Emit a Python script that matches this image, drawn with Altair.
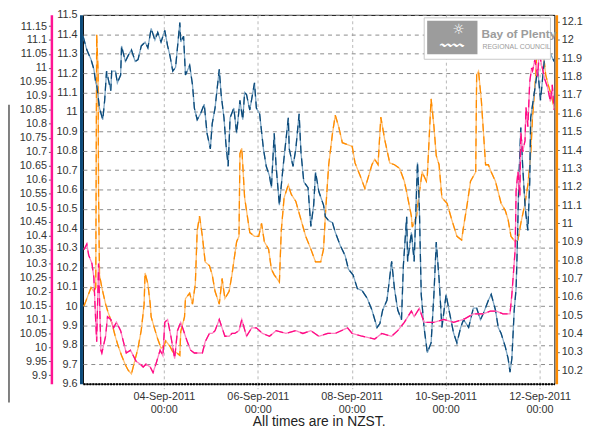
import altair as alt
import pandas as pd

# time as decimal day of September 2011 (local time)
blue_day = [2.28, 2.36, 2.45, 2.51, 2.55, 2.57, 2.63, 2.70, 2.74, 2.78,
            2.87, 2.89, 2.97, 3.01, 3.08, 3.10, 3.18, 3.24, 3.31, 3.39,
            3.45, 3.52, 3.60, 3.66, 3.73, 3.81, 3.87, 3.94, 4.02, 4.08,
            4.13, 4.19, 4.25, 4.34, 4.36, 4.42, 4.46, 4.55, 4.61, 4.65,
            4.71, 4.78, 4.86, 4.92, 4.99, 5.03, 5.09, 5.18, 5.22, 5.28,
            5.32, 5.37, 5.41, 5.49, 5.55, 5.62, 5.68, 5.72, 5.76, 5.83,
            5.93, 5.97, 6.04, 6.12, 6.18, 6.25, 6.29, 6.35, 6.39, 6.46,
            6.54, 6.65, 6.67, 6.75, 6.81, 6.88, 6.92, 6.98, 7.07, 7.13,
            7.19, 7.23, 7.30, 7.40, 7.44, 7.51, 7.59, 7.65, 7.76, 7.86,
            7.93, 8.03, 8.12, 8.22, 8.33, 8.43, 8.54, 8.60, 8.66, 8.75,
            8.85, 8.91, 8.98, 9.06, 9.10, 9.17, 9.19, 9.27, 9.33, 9.40,
            9.44, 9.48, 9.54, 9.61, 9.69, 9.75, 9.80, 9.86, 9.92, 10.01,
            10.07, 10.17, 10.24, 10.32, 10.38, 10.49, 10.59, 10.66, 10.74, 10.80,
            10.91, 10.97, 11.06, 11.12, 11.18, 11.27, 11.33, 11.37, 11.41, 11.46,
            11.50, 11.52, 11.56, 11.60, 11.64, 11.69, 11.71, 11.75, 11.79, 11.81,
            11.90, 11.96, 12.02, 12.11, 12.17, 12.23, 12.31]
blue_val = [11.39, 11.32, 11.27, 11.22, 11.15, 11.14, 11.02, 10.96, 11.06, 11.21,
            11.11, 11.21, 11.21, 11.15, 11.19, 11.34, 11.26, 11.29, 11.32, 11.26,
            11.27, 11.34, 11.36, 11.33, 11.43, 11.37, 11.41, 11.36, 11.42, 11.34,
            11.29, 11.21, 11.23, 11.46, 11.36, 11.39, 11.19, 11.24, 11.14, 11.02,
            10.96, 10.99, 11.04, 10.89, 10.81, 10.94, 11.02, 11.22, 11.09, 10.97,
            10.84, 10.72, 10.97, 11.02, 10.89, 11.06, 10.96, 11.10, 11.09, 11.01,
            11.15, 11.02, 10.99, 10.81, 10.72, 10.67, 10.61, 10.89, 10.72, 10.52,
            10.72, 10.97, 10.81, 10.72, 10.81, 10.99, 10.79, 10.64, 10.61, 10.41,
            10.52, 10.69, 10.59, 10.52, 10.46, 10.44, 10.43, 10.38, 10.31, 10.26,
            10.19, 10.16, 10.09, 10.08, 10.04, 9.98, 9.89, 9.91, 9.98, 10.03,
            10.23, 10.09, 9.98, 9.93, 10.21, 10.46, 10.23, 10.38, 10.23, 10.74,
            10.51, 10.06, 9.89, 9.76, 9.81, 10.06, 10.33, 10.14, 9.89, 10.06,
            9.98, 9.86, 9.81, 9.89, 9.93, 9.89, 9.99, 9.99, 9.93, 9.96,
            10.03, 10.06, 9.98, 9.89, 9.86, 9.79, 9.73, 9.66, 9.73, 9.98,
            10.09, 10.26, 10.66, 10.92, 10.72, 10.52, 10.47, 10.39, 10.64, 10.97,
            11.12, 11.22, 11.06, 11.29, 11.29, 11.30, 11.26]

pink_day = [2.30, 2.36, 2.40, 2.47, 2.51, 2.55, 2.57, 2.61, 2.66, 2.68,
            2.76, 2.80, 2.87, 2.93, 2.99, 3.08, 3.14, 3.20, 3.29, 3.35,
            3.41, 3.50, 3.56, 3.62, 3.71, 3.77, 3.83, 3.92, 3.98, 4.02,
            4.08, 4.15, 4.23, 4.29, 4.36, 4.44, 4.50, 4.57, 4.65, 4.71,
            4.82, 4.88, 4.97, 5.03, 5.09, 5.18, 5.24, 5.30, 5.39, 5.45,
            5.51, 5.60, 5.66, 5.76, 5.87, 5.97, 6.10, 6.25, 6.39, 6.60,
            6.81, 6.96, 7.13, 7.30, 7.49, 7.65, 7.91, 8.01, 8.22, 8.49,
            8.64, 8.85, 8.98, 9.12, 9.27, 9.33, 9.44, 9.54, 9.75, 9.96,
            10.17, 10.38, 10.59, 10.80, 10.95, 11.08, 11.22, 11.37, 11.41, 11.48,
            11.50, 11.54, 11.58, 11.60, 11.64, 11.69, 11.71, 11.75, 11.79, 11.83,
            11.85, 11.90, 11.96, 12.00, 12.02, 12.11, 12.17, 12.23, 12.27, 12.31]
pink_val = [10.35, 10.37, 10.33, 10.30, 10.25, 10.09, 10.02, 10.30, 9.99, 9.98,
            10.04, 10.11, 10.10, 10.07, 10.09, 10.06, 10.02, 9.98, 9.99, 9.97,
            9.95, 9.94, 9.93, 9.94, 9.93, 9.91, 9.94, 9.99, 9.97, 10.09,
            10.10, 10.04, 9.96, 10.06, 10.09, 10.05, 10.02, 9.99, 9.98, 9.98,
            9.98, 10.02, 10.05, 10.05, 10.06, 10.10, 10.07, 10.04, 10.04, 10.05,
            10.05, 10.06, 10.10, 10.04, 10.07, 10.07, 10.05, 10.04, 10.06, 10.05,
            10.06, 10.05, 10.06, 10.04, 10.05, 10.05, 10.07, 10.05, 10.04, 10.03,
            10.05, 10.04, 10.06, 10.09, 10.13, 10.11, 10.14, 10.09, 10.09, 10.10,
            10.09, 10.10, 10.12, 10.12, 10.13, 10.13, 10.12, 10.12, 10.19, 10.35,
            10.56, 10.63, 10.54, 10.77, 10.70, 10.74, 10.86, 10.79, 10.95, 11.00,
            10.99, 11.03, 10.97, 11.09, 11.03, 10.96, 10.93, 10.88, 10.94, 10.85]

orange_day = [2.30, 2.36, 2.45, 2.51, 2.55, 2.57, 2.60, 2.61, 2.63, 2.68,
              2.76, 2.82, 2.89, 2.97, 3.03, 3.10, 3.18, 3.24, 3.31, 3.39,
              3.45, 3.52, 3.58, 3.60, 3.66, 3.71, 3.73, 3.81, 3.87, 3.94,
              4.00, 4.04, 4.13, 4.19, 4.25, 4.34, 4.36, 4.44, 4.46, 4.55,
              4.61, 4.67, 4.71, 4.76, 4.82, 4.88, 4.97, 5.03, 5.09, 5.18,
              5.24, 5.30, 5.39, 5.45, 5.51, 5.55, 5.60, 5.62, 5.66, 5.72,
              5.83, 5.93, 6.02, 6.08, 6.14, 6.23, 6.29, 6.35, 6.46, 6.50,
              6.56, 6.65, 6.71, 6.81, 6.92, 7.02, 7.13, 7.23, 7.34, 7.40,
              7.44, 7.51, 7.59, 7.65, 7.72, 7.80, 7.91, 8.01, 8.07, 8.18,
              8.28, 8.35, 8.43, 8.49, 8.56, 8.62, 8.70, 8.81, 8.91, 9.02,
              9.12, 9.17, 9.27, 9.29, 9.38, 9.44, 9.50, 9.59, 9.61, 9.69,
              9.75, 9.80, 9.86, 9.92, 10.03, 10.13, 10.24, 10.34, 10.38, 10.45,
              10.53, 10.64, 10.66, 10.70, 10.76, 10.85, 10.91, 10.97, 11.06, 11.12,
              11.18, 11.27, 11.33, 11.39, 11.48, 11.54, 11.60, 11.69, 11.75, 11.81,
              11.85, 11.92, 11.96, 12.00, 12.02, 12.06, 12.13, 12.19, 12.25, 12.31]
orange_val = [10.55, 10.59, 10.65, 10.63, 10.65, 12.03, 11.83, 11.16, 10.72, 10.65,
              10.56, 10.51, 10.46, 10.38, 10.33, 10.28, 10.23, 10.20, 10.18, 10.26,
              10.32, 10.42, 10.56, 10.73, 10.67, 10.56, 10.49, 10.42, 10.37, 10.32,
              10.33, 10.36, 10.33, 10.30, 10.30, 10.28, 10.41, 10.49, 10.59, 10.62,
              10.56, 10.67, 10.96, 11.04, 10.93, 10.79, 10.77, 10.72, 10.63, 10.56,
              10.70, 10.59, 10.63, 10.72, 10.83, 10.90, 10.93, 11.38, 11.41, 11.14,
              10.95, 10.93, 10.93, 11.00, 10.90, 10.86, 10.75, 10.72, 10.68, 10.96,
              11.14, 11.21, 11.16, 11.12, 11.02, 10.93, 10.86, 10.79, 10.79, 10.86,
              11.05, 11.32, 11.49, 11.59, 11.53, 11.44, 11.43, 11.42, 11.33, 11.26,
              11.19, 11.25, 11.32, 11.35, 11.32, 11.58, 11.46, 11.33, 11.32, 11.30,
              11.23, 11.17, 11.04, 10.98, 11.04, 11.17, 11.28, 11.23, 11.26, 11.68,
              11.53, 11.37, 11.32, 11.14, 11.11, 11.02, 10.93, 10.91, 10.98, 11.09,
              11.23, 11.28, 11.81, 11.83, 11.67, 11.32, 11.32, 11.28, 11.23, 11.17,
              11.11, 11.07, 11.02, 10.93, 10.90, 10.91, 11.00, 11.11, 11.21, 11.37,
              11.58, 11.81, 12.05, 12.09, 12.09, 11.98, 11.81, 11.75, 11.70, 11.63]

blue_ticks = [9.6, 9.7, 9.8, 9.9, 10.0, 10.1, 10.2, 10.3, 10.4, 10.5,
              10.6, 10.7, 10.8, 10.9, 11.0, 11.1, 11.2, 11.3, 11.4, 11.5]
pink_ticks = [9.9, 9.95, 10.0, 10.05, 10.1, 10.15, 10.2, 10.25, 10.3, 10.35,
              10.4, 10.45, 10.5, 10.55, 10.6, 10.65, 10.7, 10.75, 10.8, 10.85,
              10.9, 10.95, 11.0, 11.05, 11.1, 11.15]
orange_ticks = [10.2, 10.3, 10.4, 10.5, 10.6, 10.7, 10.8, 10.9, 11.0, 11.1,
                11.2, 11.3, 11.4, 11.5, 11.6, 11.7, 11.8, 11.9, 12.0, 12.1]
tick_dates = [4, 6, 8, 10, 12]

FONT = "Liberation Sans"


def frame(days, vals):
    t = pd.Timestamp("2011-09-01") + pd.to_timedelta([d - 1 for d in days], unit="D")
    return pd.DataFrame({"time": t.strftime("%Y-%m-%dT%H:%M:%S"), "value": vals})


x_enc = alt.X(
    "time:T",
    title="All times are in NZST.",
    scale=alt.Scale(domain=[
        alt.DateTime(year=2011, month=9, date=2, hours=6, minutes=40),
        alt.DateTime(year=2011, month=9, date=12, hours=7, minutes=34),
    ]),
    axis=alt.Axis(
        values=[alt.DateTime(year=2011, month=9, date=d) for d in tick_dates],
        labelExpr="[timeFormat(datum.value, '%d-%b-%Y'), timeFormat(datum.value, '%H:%M')]",
        grid=True, gridColor="#b8b8b8", gridDash=[3, 3],
        domainColor="#000", domainWidth=2, domainDash=[2, 1],
        tickSize=5, tickColor="#aaa", tickDash=[2, 2],
        labelFontSize=11, labelColor="#333", labelLineHeight=13, labelPadding=2,
        titleFontSize=14, titleFontWeight="normal", titleColor="#222", titlePadding=0,
    ),
)


def series(df, light, dark, domain, axis):
    y = alt.Y("value:Q", scale=alt.Scale(domain=domain, nice=False, zero=False), axis=axis)
    base = alt.Chart(df).encode(x=x_enc, y=y)
    return alt.layer(
        base.mark_line(color=light, strokeWidth=1.3, clip=True),
        base.mark_line(color=dark, strokeWidth=1.3, strokeDash=[8, 5], clip=True),
    )


blue_axis = alt.Axis(orient="left", offset=2, values=blue_ticks, format="~g", title=None,
                     domainColor="#0b4a7a", domainWidth=3, ticks=False, labelPadding=4,
                     grid=True, gridColor="#8a8a8a", gridDash=[4, 4],
                     labelFontSize=11, labelColor="#333")
pink_axis = alt.Axis(orient="left", offset=32, values=pink_ticks, format="~g", title=None,
                     domainColor="#ff1493", domainWidth=2.5, tickSize=3, tickColor="#666",
                     labelPadding=2, grid=False, labelFontSize=11, labelColor="#333")
orange_axis = alt.Axis(orient="right", offset=2, values=orange_ticks, format="~g", title=None,
                       domainColor="#ff8c00", domainWidth=2.5, tickSize=3, tickColor="#666",
                       labelPadding=2, grid=False, labelFontSize=11, labelColor="#333")

blue = series(frame(blue_day, blue_val), "#7ea6c4", "#0b4a7a", [9.6, 11.5], blue_axis)
pink = series(frame(pink_day, pink_val), "#ff80c0", "#ff0a84", [9.87, 11.19], pink_axis)
orange = series(frame(orange_day, orange_val), "#ffbe70", "#ff8c00", [10.126, 12.137], orange_axis)

one = pd.DataFrame({"k": [0]})
side_rule = alt.Chart(one).mark_rule(color="#555", strokeWidth=1.5).encode(
    x=alt.value(-75), y=alt.value(91), y2=alt.value(393))
logo_box = alt.Chart(one).mark_rect(fill="white", stroke="#c8c8c8", strokeWidth=1).encode(
    x=alt.value(346), x2=alt.value(474), y=alt.value(3), y2=alt.value(45))
logo_pic = alt.Chart(one).mark_rect(fill="#9c9c9c").encode(
    x=alt.value(349), x2=alt.value(400), y=alt.value(6), y2=alt.value(40))
logo_sun = alt.Chart(one).mark_text(text="☼", color="white", fontSize=14, font="DejaVu Sans").encode(
    x=alt.value(381), y=alt.value(15))
logo_wave = alt.Chart(one).mark_text(text="〰〰", color="white", fontSize=12, font="DejaVu Sans").encode(
    x=alt.value(374), y=alt.value(31))
logo_name = alt.Chart(one).mark_text(text="Bay of Plenty", color="#9c9c9c", fontSize=12,
                                     fontWeight="bold", font=FONT, align="left").encode(
    x=alt.value(404), y=alt.value(19))
logo_sub = alt.Chart(one).mark_text(text="REGIONAL COUNCIL", color="#9c9c9c", fontSize=7,
                                    font=FONT, align="left").encode(
    x=alt.value(405), y=alt.value(33))

chart = (
    alt.layer(orange, blue, pink, side_rule, logo_box, logo_pic, logo_sun, logo_wave,
              logo_name, logo_sub)
    .resolve_scale(y="independent")
    .resolve_axis(y="independent")
    .properties(
        width=478, height=374,
        autosize=alt.AutoSizeParams(type="none"),
        padding={"left": 76, "top": 4, "right": 29, "bottom": 50},
    )
    .configure_view(stroke="#000", strokeWidth=1)
    .configure_axis(labelFont=FONT, titleFont=FONT)
)

chart.save("out.html", embed_options={"renderer": "svg", "actions": False})
